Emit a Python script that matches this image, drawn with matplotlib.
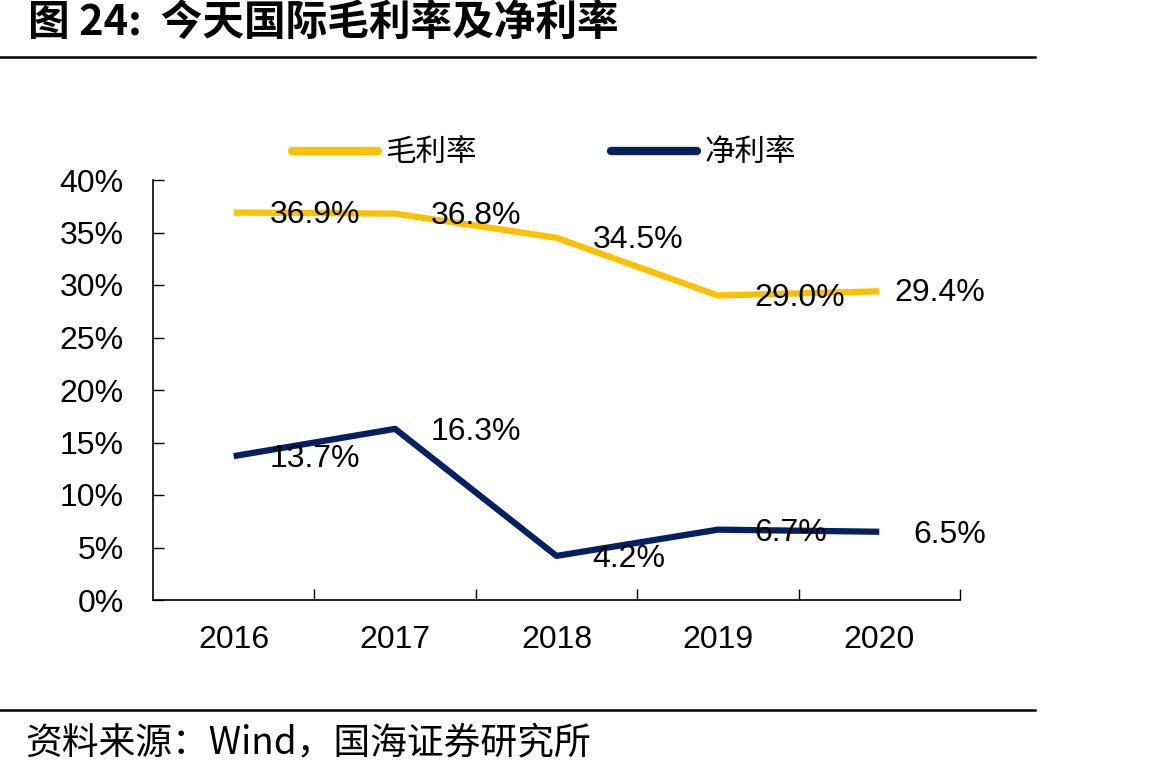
import matplotlib.pyplot as plt
from matplotlib.ticker import FixedLocator, PercentFormatter

plt.rcParams['font.family'] = ['Liberation Sans', 'Noto Sans CJK SC', 'DejaVu Sans']

years = ['2016', '2017', '2018', '2019', '2020']
gross = [36.9, 36.8, 34.5, 29.0, 29.4]
net = [13.7, 16.3, 4.2, 6.7, 6.5]
gold = '#FFC000'
navy = '#002060'

W, H = 1166, 776
fig = plt.figure(figsize=(W / 100, H / 100), dpi=100)
ax = fig.add_axes([153 / W, 1 - 600 / H, (960 - 153) / W, (600 - 180) / H])

x = range(len(years))
ax.plot(x, gross, color=gold, lw=4.5, solid_capstyle='butt', solid_joinstyle='round', label='毛利率')
ax.plot(x, net, color=navy, lw=4.5, solid_capstyle='butt', solid_joinstyle='round', label='净利率')

for i, v in enumerate(gross):
    dx = 15 if i == len(gross) - 1 else 36
    ax.annotate(f'{v:.1f}%', (i, v), xytext=(dx, -2), textcoords='offset pixels',
                ha='left', va='center', fontsize=23)
for i, v in enumerate(net):
    dx = 34 if i == len(net) - 1 else 36
    ax.annotate(f'{v:.1f}%', (i, v), xytext=(dx, -3), textcoords='offset pixels',
                ha='left', va='center', fontsize=23)

ax.set_xlim(-0.5, 4.5)
ax.set_ylim(0, 40)
ax.set_yticks(range(0, 41, 5))
ax.yaxis.set_major_formatter(PercentFormatter(decimals=0))
ax.set_xticks(list(x))
ax.set_xticklabels(years)
ax.xaxis.set_minor_locator(FixedLocator([0.5, 1.5, 2.5, 3.5, 4.5]))
ax.tick_params(axis='x', which='major', length=0, labelsize=23, pad=18)
ax.tick_params(axis='x', which='minor', direction='in', length=8, width=1)
ax.tick_params(axis='y', direction='in', length=8, width=1, labelsize=23, pad=21)
for s in ['top', 'right']:
    ax.spines[s].set_visible(False)
for s in ['left', 'bottom']:
    ax.spines[s].set_linewidth(1.2)

leg = fig.legend(loc='center', bbox_to_anchor=(544 / W, 1 - 153 / H), ncol=2, frameon=False,
                 handlelength=2.8, handletextpad=0.25, columnspacing=4.4,
                 prop={'family': ['Noto Sans CJK SC'], 'size': 22})
for line in leg.get_lines():
    line.set_solid_capstyle('round')
    line.set_linewidth(6)

fig.text(28 / W, 1 - 23 / H, '图 24:  今天国际毛利率及净利率', fontsize=30, fontweight='bold',
         family=['Noto Sans CJK SC'], va='center', ha='left')
fig.add_artist(plt.Line2D([0, 1035 / W], [1 - 57 / H, 1 - 57 / H], color='black', lw=1.8))
fig.add_artist(plt.Line2D([0, 1035 / W], [1 - 710 / H, 1 - 710 / H], color='black', lw=1.8))
fig.text(25 / W, 1 - 743 / H, '资料来源：Wind，国海证券研究所', fontsize=26.5,
         family=['Noto Sans CJK SC', 'Liberation Sans'], va='center', ha='left')

fig.savefig('out.png', dpi=100)
